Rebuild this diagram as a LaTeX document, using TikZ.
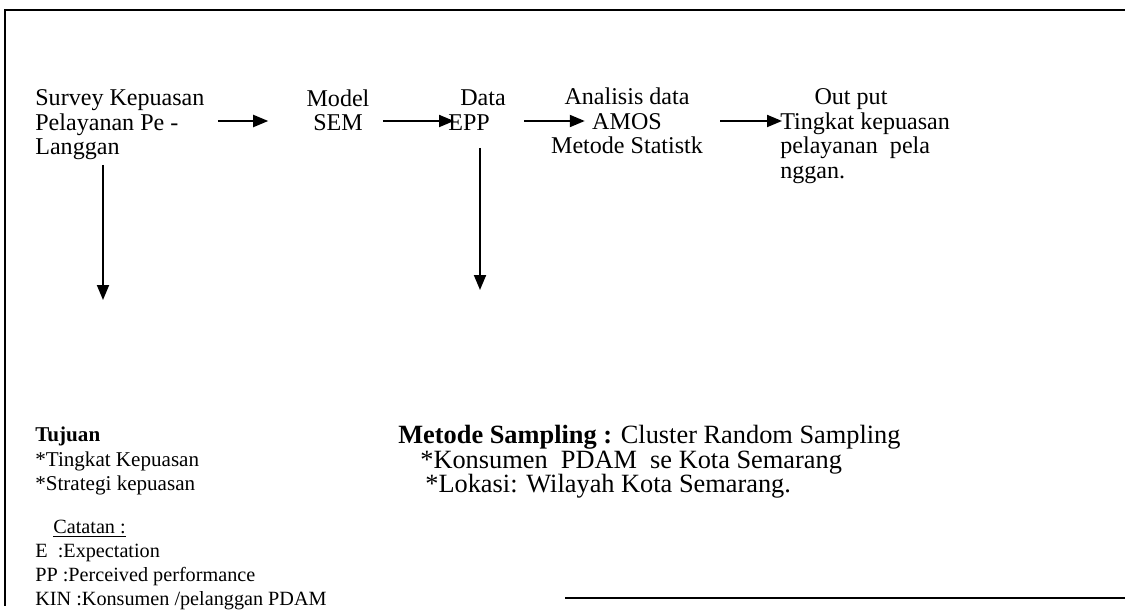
\documentclass[tikz,border=0pt]{standalone}
\usepackage{fontspec}
\setmainfont{Liberation Serif}
\usetikzlibrary{arrows.meta,calc}
\newcommand{\diafont}{\fontsize{13.7pt}{13.9pt}\selectfont}
\newcommand{\widefont}{\fontsize{15pt}{13.9pt}\selectfont}
\newcommand{\notefont}{\fontsize{12pt}{13.9pt}\selectfont}
\newcommand{\tinyfont}{\fontsize{11.5pt}{13.6pt}\selectfont}
\tikzset{
  lbl/.style={inner sep=0pt, font=\diafont},
  flow/.style={-{Triangle[length=0.3cm,width=0.24cm]}, line width=1.1pt},
  frame/.style={line width=1pt}
}

\begin{document}
\begin{tikzpicture}[x=0.02cm, y=-0.02cm]
    \useasboundingbox (0,0) rectangle (1125,614);

    \draw[frame] (1125,10) -- (5,10) -- (5,606);
    \draw[frame] (565,598) -- (1125,598);

    \node[lbl, anchor=west, align=left] (survey) at (35,125) {Survey Kepuasan\\Pelayanan Pe -\\Langgan};
    \node[lbl, align=center] (model) at (338,110) {Model\\SEM};
    \node[lbl, anchor=west, align=left] (data) at (448,110) {\hspace*{0.24cm}Data\\EPP};
    \node[lbl, align=center] (amos) at (627,121) {Analisis data\\AMOS\\Metode Statistk};
    \node[lbl] (outtitle) at (851,99) {Out put};
    \node[lbl, anchor=west, align=left] (out) at (780,148) {Tingkat kepuasan\\pelayanan\ \ pela\\nggan.};

    \node[lbl, font=\notefont, anchor=west, align=left] (tujuan) at (35,461) {\textbf{Tujuan}\\*Tingkat Kepuasan\\*Strategi kepuasan};
    \node[lbl, font=\widefont, anchor=west, align=left] (sampling) at (398,462) {\textbf{Metode Sampling :} Cluster Random Sampling\\\hspace*{0.44cm}*Konsumen\ \ PDAM\ \ se Kota Semarang\\\hspace*{0.54cm}*Lokasi: Wilayah Kota Semarang.};
    \node[lbl, font=\tinyfont, anchor=west, align=left] (catatan) at (35,565) {\hspace*{0.36cm}\underline{Catatan :}\\E\ \ :Expectation\\PP :Perceived performance\\KIN :Konsumen /pelanggan PDAM};

    \draw[flow] ($(survey.east)+(13,-4)$) -- ($(model.west |- survey.east)+(-38,-4)$);
    \draw[flow] ($(model.east |- survey.east)+(13,-4)$) -- ($(data.west |- survey.east)+(6,-4)$);
    \draw[flow] ($(data.east |- survey.east)+(18,-4)$) -- ($(amos.west |- survey.east)+(34,-4)$);
    \draw[flow] ($(amos.east |- survey.east)+(17,-4)$) -- ($(out.west |- survey.east)+(2,-4)$);

    \draw[flow] ($(survey.west)+(68,40)$) -- ($(tujuan.west)+(68,-161)$);
    \draw[flow] ($(data.west)+(32,38)$) -- ($(sampling.west)+(82,-172)$);
\end{tikzpicture}
\end{document}
